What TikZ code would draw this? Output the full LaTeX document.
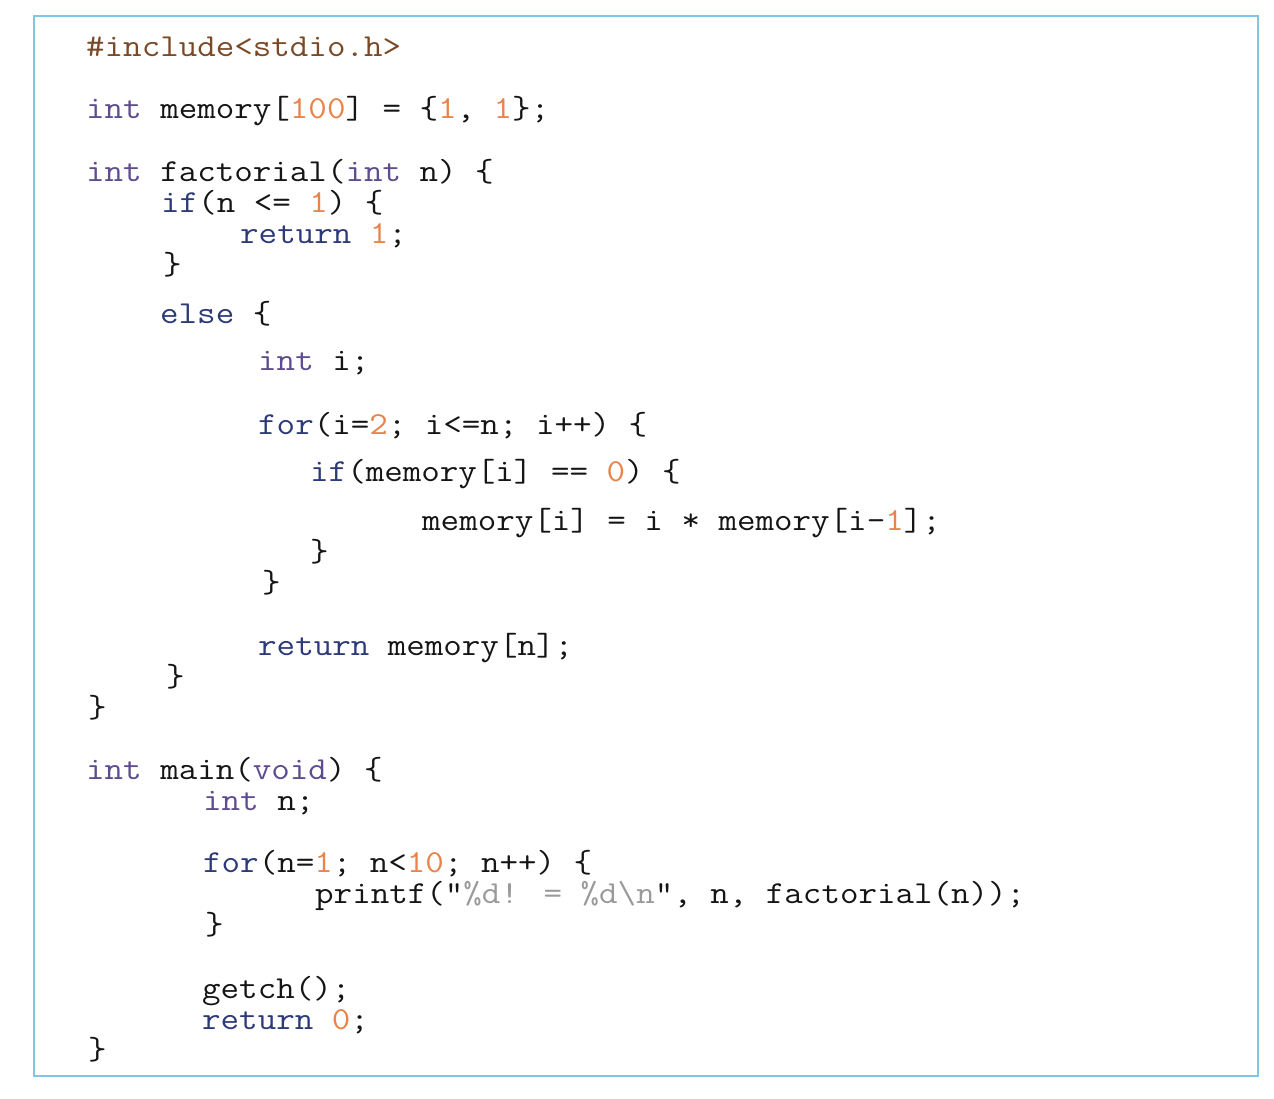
\documentclass[tikz,border=0pt]{standalone}
\usepackage{xcolor}
\usepackage{fontspec}
\newfontfamily\codefont{Latin Modern Mono}[FakeStretch=1.124]
\definecolor{kwblue}{HTML}{2D3A78}
\definecolor{typurple}{HTML}{5E4C8E}
\definecolor{numorange}{HTML}{E8834A}
\definecolor{inclbrown}{HTML}{7A4A28}
\definecolor{strgray}{HTML}{9A9A9A}
\definecolor{plain}{HTML}{151515}
\definecolor{framecol}{HTML}{7EC8E6}
\newcommand\kw[1]{\textcolor{kwblue}{#1}}
\newcommand\ty[1]{\textcolor{typurple}{#1}}
\newcommand\nm[1]{\textcolor{numorange}{#1}}
\newcommand\incl[1]{\textcolor{inclbrown}{#1}}
\newcommand\strg[1]{\textcolor{strgray}{#1}}

\begin{document}
\begin{tikzpicture}[
            x=1pt,y=-1pt,
            code/.style={
                    anchor=base west,
                    inner sep=0pt,
                    text=plain,
                    font=\codefont\fontsize{32}{38}\selectfont
                },
            frame/.style={
                    draw=framecol,
                    line width=2.5pt
                }
        ]
        \useasboundingbox (0,0) rectangle (1274,1098);
        \draw[frame] (34,16) rectangle (1258,1076);

        \node[code] (incl) at (86,56) {\incl{\#include<stdio.h>}};
        \node[code] (mem) at (86,118) {\ty{int} memory[\nm{100}] = \{\nm{1}, \nm{1}\};};

        \node[code] (fact) at (86,181) {\ty{int} factorial(\ty{int} n) \{};
        \node[code] (if1) at (161,212) {\kw{if}(n <= \nm{1}) \{};
        \node[code] (ret1) at (240,243) {\kw{return} \nm{1};};
        \node[code] (cl1) at (163,274) {\}};
        \node[code] (else) at (160,323) {\kw{else} \{};
        \node[code] (inti) at (258,370) {\ty{int} i;};
        \node[code] (for1) at (258,434) {\kw{for}(i=\nm{2}; i<=n; i++) \{};
        \node[code] (if2) at (310,481) {\kw{if}(memory[i] == \nm{0}) \{};
        \node[code] (assign) at (422,530) {memory[i] = i * memory[i-\nm{1}];};
        \node[code] (cl2) at (310,561) {\}};
        \node[code] (cl3) at (262,592) {\}};
        \node[code] (ret2) at (258,655) {\kw{return} memory[n];};
        \node[code] (cl4) at (166,686) {\}};
        \node[code] (cl5) at (88,717) {\}};

        \node[code] (main) at (86,779) {\ty{int} main(\ty{void}) \{};
        \node[code] (intn) at (203,810) {\ty{int} n;};
        \node[code] (for2) at (203,872) {\kw{for}(n=\nm{1}; n<\nm{10}; n++) \{};
        \node[code] (print) at (315,903) {printf(“\strg{\%d! = \%d\textbackslash n}”, n, factorial(n));};
        \node[code] (cl6) at (205,934) {\}};
        \node[code] (getch) at (202,998) {getch();};
        \node[code] (ret3) at (202,1029) {\kw{return} \nm{0};};
        \node[code] (cl7) at (88,1059) {\}};
    \end{tikzpicture}
\end{document}
